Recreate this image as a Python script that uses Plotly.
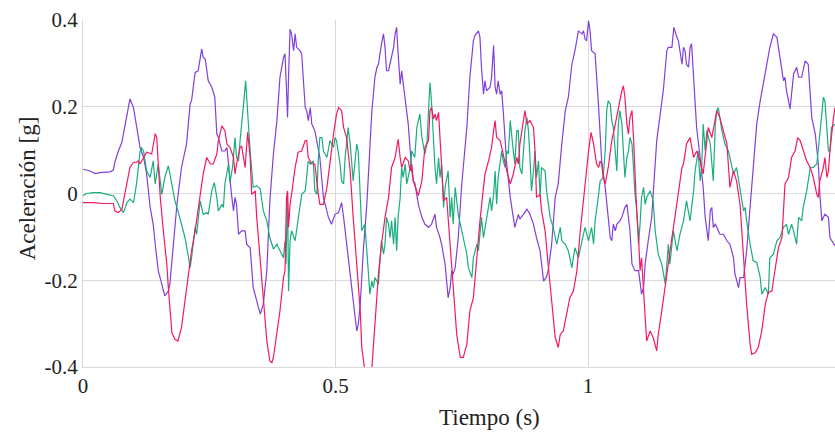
import plotly.graph_objects as go

# ---- data (time in s, acceleration in g) ----
t_purple = [0.000, 0.014, 0.024, 0.034, 0.054, 0.060, 0.063, 0.070, 0.077, 0.083, 0.090, 0.093, 0.100, 0.106, 0.113, 0.120, 0.126, 0.133, 0.139, 0.143, 0.149, 0.156, 0.162, 0.169, 0.172, 0.179, 0.186,
            0.195, 0.205, 0.212, 0.215, 0.222, 0.228, 0.235, 0.238, 0.242, 0.248, 0.255, 0.261, 0.265, 0.268, 0.275, 0.281, 0.285, 0.288, 0.294, 0.298, 0.301, 0.304, 0.308, 0.314, 0.321, 0.324, 0.331, 0.337, 0.344, 0.351, 0.357, 0.364, 0.370, 0.377,
            0.384, 0.390, 0.397, 0.400, 0.403, 0.405, 0.407, 0.410, 0.413, 0.417, 0.420, 0.423, 0.430, 0.433, 0.436, 0.440, 0.443, 0.446, 0.450, 0.453, 0.459, 0.466, 0.469, 0.476, 0.479, 0.486, 0.492, 0.499, 0.506, 0.509, 0.512, 0.516, 0.522, 0.529, 0.535, 0.542, 0.545, 0.549, 0.555, 0.562,
            0.572, 0.578, 0.582, 0.585, 0.591, 0.595, 0.598, 0.601, 0.605, 0.608, 0.611, 0.615, 0.618, 0.621, 0.624, 0.628, 0.631, 0.638, 0.641, 0.644, 0.651, 0.654, 0.657, 0.664, 0.671, 0.677, 0.684, 0.690, 0.697, 0.700, 0.707, 0.710, 0.717, 0.723, 0.727, 0.730, 0.733, 0.737, 0.743, 0.750,
            0.760, 0.766, 0.773, 0.776, 0.783, 0.786, 0.789, 0.793, 0.796, 0.799, 0.806, 0.809, 0.813, 0.816, 0.819, 0.822, 0.826, 0.829, 0.832, 0.836, 0.839, 0.846, 0.852, 0.855, 0.862, 0.865, 0.872, 0.879, 0.885, 0.892, 0.898, 0.905, 0.912, 0.917, 0.921, 0.928, 0.935, 0.941,
            0.948, 0.955, 0.961, 0.968, 0.974, 0.981, 0.988, 0.991, 0.994, 0.997, 1.001, 1.004, 1.007, 1.014, 1.021, 1.027, 1.034, 1.037, 1.044, 1.047, 1.050, 1.054, 1.057, 1.063, 1.067, 1.073, 1.077, 1.080, 1.083, 1.087, 1.093, 1.100, 1.103, 1.106, 1.110, 1.113, 1.120, 1.126,
            1.136, 1.143, 1.149, 1.156, 1.159, 1.166, 1.170, 1.176, 1.179, 1.186, 1.189, 1.192, 1.195, 1.199, 1.202, 1.205, 1.209, 1.215, 1.222, 1.228, 1.232, 1.235, 1.238, 1.242, 1.245, 1.248, 1.252, 1.255, 1.261, 1.268, 1.275, 1.281, 1.288, 1.291, 1.298, 1.301, 1.308, 1.314,
            1.321, 1.327, 1.334, 1.341, 1.347, 1.354, 1.360, 1.367, 1.374, 1.380, 1.384, 1.387, 1.390, 1.393, 1.400, 1.403, 1.407, 1.413, 1.417, 1.423, 1.430, 1.436, 1.440, 1.443, 1.450, 1.456, 1.459, 1.463, 1.469, 1.476, 1.479, 1.486, 1.489]
a_purple = [0.056, 0.052, 0.046, 0.048, 0.050, 0.054, 0.072, 0.098, 0.118, 0.156, 0.206, 0.218, 0.198, 0.152, 0.106, 0.083, 0.045, -0.032, -0.071, -0.117, -0.178, -0.209, -0.236, -0.225, -0.209, -0.117, -0.025,
            0.060, 0.114, 0.206, 0.214, 0.279, 0.283, 0.333, 0.314, 0.310, 0.260, 0.245, 0.222, 0.137, 0.129, 0.098, 0.098, 0.106, 0.068, -0.002, -0.040, -0.009, -0.025, -0.094, -0.086, -0.086, -0.117, -0.125, -0.217, -0.248, -0.278, -0.255, -0.178, -0.017, 0.091,
            0.168, 0.268, 0.314, 0.322, 0.237, 0.175, 0.268, 0.379, 0.368, 0.329, 0.368, 0.337, 0.329, 0.322, 0.268, 0.198, 0.191, 0.168, 0.198, 0.160, 0.145, 0.098, 0.083, -0.009, -0.025, -0.055, -0.071, -0.048, -0.044, -0.032, -0.021, -0.055, -0.117, -0.186, -0.255, -0.317, -0.302, -0.255, -0.132, -0.025,
            0.191, 0.268, 0.291, 0.298, 0.345, 0.368, 0.337, 0.283, 0.283, 0.302, 0.314, 0.337, 0.368, 0.383, 0.322, 0.252, 0.283, 0.222, 0.198, 0.160, 0.052, 0.029, 0.025, -0.025, -0.055, -0.071, -0.078, -0.071, -0.048, -0.078, -0.102, -0.117, -0.163, -0.240, -0.217, -0.178, -0.186, -0.171, -0.102, 0.022,
            0.152, 0.268, 0.352, 0.364, 0.375, 0.360, 0.291, 0.229, 0.260, 0.237, 0.245, 0.268, 0.341, 0.245, 0.229, 0.260, 0.229, 0.237, 0.191, 0.114, 0.068, -0.009, -0.055, -0.078, -0.048, -0.059, -0.048, -0.036, -0.048, -0.071, -0.102, -0.132, -0.202, -0.194, -0.178, -0.117, -0.009, 0.022,
            0.114, 0.191, 0.222, 0.298, 0.329, 0.375, 0.368, 0.375, 0.356, 0.352, 0.398, 0.375, 0.329, 0.322, 0.198, 0.075, 0.014, -0.017, -0.102, -0.109, -0.071, -0.086, -0.071, -0.063, -0.055, -0.032, -0.025, -0.055, -0.086, -0.163, -0.178, -0.178, -0.209, -0.232, -0.217, -0.163, -0.102, -0.055,
            0.122, 0.183, 0.237, 0.329, 0.337, 0.337, 0.383, 0.360, 0.352, 0.298, 0.337, 0.329, 0.298, 0.291, 0.337, 0.345, 0.268, 0.152, 0.083, 0.014, -0.055, -0.086, -0.109, -0.040, -0.032, -0.078, -0.071, -0.078, -0.094, -0.094, -0.109, -0.117, -0.148, -0.186, -0.217, -0.194, -0.194, -0.132,
            -0.030, 0.068, 0.160, 0.214, 0.252, 0.298, 0.337, 0.368, 0.360, 0.314, 0.283, 0.260, 0.268, 0.237, 0.195, 0.237, 0.275, 0.291, 0.268, 0.268, 0.306, 0.298, 0.229, 0.175, 0.137, 0.068, -0.002, -0.063, -0.048, -0.055, -0.102, -0.117, -0.121]

t_red = [0.000, 0.020, 0.040, 0.060, 0.063, 0.070, 0.077, 0.080, 0.087, 0.093, 0.100, 0.106, 0.110, 0.113, 0.120, 0.126, 0.136, 0.143, 0.146, 0.149, 0.153, 0.159, 0.166, 0.169, 0.172, 0.176, 0.182, 0.188,
         0.195, 0.202, 0.209, 0.215, 0.222, 0.228, 0.232, 0.238, 0.245, 0.252, 0.258, 0.265, 0.268, 0.275, 0.281, 0.285, 0.291, 0.298, 0.301, 0.304, 0.311, 0.314, 0.321, 0.326, 0.331, 0.334, 0.341, 0.344, 0.351, 0.357, 0.364, 0.370, 0.374, 0.377,
         0.384, 0.390, 0.397, 0.400, 0.403, 0.405, 0.407, 0.410, 0.413, 0.420, 0.426, 0.433, 0.440, 0.443, 0.446, 0.453, 0.459, 0.463, 0.466, 0.469, 0.476, 0.483, 0.489, 0.496, 0.502, 0.506, 0.512, 0.516, 0.522, 0.529, 0.535, 0.542, 0.549, 0.552, 0.558, 0.562, 0.568,
         0.572, 0.578, 0.585, 0.591, 0.598, 0.605, 0.611, 0.618, 0.624, 0.628, 0.631, 0.638, 0.644, 0.648, 0.651, 0.654, 0.661, 0.664, 0.671, 0.677, 0.684, 0.687, 0.690, 0.694, 0.697, 0.700, 0.704, 0.707, 0.710, 0.714, 0.720, 0.727, 0.733, 0.740, 0.747, 0.753,
         0.760, 0.766, 0.773, 0.780, 0.786, 0.793, 0.796, 0.803, 0.809, 0.813, 0.816, 0.819, 0.826, 0.832, 0.839, 0.846, 0.852, 0.859, 0.862, 0.865, 0.872, 0.875, 0.879, 0.885, 0.892, 0.895, 0.898, 0.905, 0.908, 0.915, 0.921, 0.928, 0.935, 0.941,
         0.945, 0.951, 0.958, 0.964, 0.971, 0.978, 0.984, 0.991, 0.997, 1.001, 1.006, 1.011, 1.017, 1.021, 1.024, 1.027, 1.030, 1.034, 1.040, 1.047, 1.054, 1.060, 1.067, 1.070, 1.073, 1.077, 1.080, 1.083, 1.087, 1.090, 1.093, 1.096, 1.100, 1.103, 1.106, 1.110, 1.113, 1.116, 1.123, 1.129,
         1.136, 1.139, 1.146, 1.153, 1.159, 1.166, 1.172, 1.179, 1.186, 1.189, 1.195, 1.202, 1.209, 1.215, 1.222, 1.228, 1.232, 1.238, 1.245, 1.252, 1.255, 1.261, 1.268, 1.275, 1.281, 1.285, 1.288, 1.294, 1.301,
         1.308, 1.314, 1.321, 1.324, 1.331, 1.337, 1.344, 1.351, 1.357, 1.364, 1.370, 1.377, 1.384, 1.387, 1.390, 1.397, 1.403, 1.410, 1.415, 1.420, 1.426, 1.433, 1.440, 1.446, 1.453, 1.456, 1.459, 1.466, 1.469, 1.473, 1.476, 1.479, 1.486, 1.489]
a_red = [-0.021, -0.021, -0.023, -0.023, -0.040, -0.044, -0.036, -0.017, 0.022, 0.060, 0.072, 0.072, 0.075, 0.068, 0.083, 0.095, 0.091, 0.138, 0.129, 0.075, -0.009, -0.086, -0.163, -0.217, -0.271, -0.321, -0.336, -0.340,
         -0.309, -0.248, -0.186, -0.132, -0.086, -0.040, -0.002, 0.045, 0.083, 0.068, 0.068, 0.091, 0.122, 0.156, 0.145, 0.114, 0.106, 0.083, 0.045, 0.068, 0.106, 0.110, 0.060, 0.141, 0.083, -0.002, 0.006, -0.055, -0.155, -0.248, -0.340, -0.386, -0.390, -0.378,
         -0.317, -0.271, -0.194, -0.178, -0.009, 0.006, -0.078, -0.025, -0.002, 0.060, 0.095, 0.098, 0.122, 0.122, 0.083, 0.068, 0.068, 0.022, -0.002, -0.025, -0.025, 0.014, 0.075, 0.137, 0.183, 0.198, 0.191, 0.152, 0.129, 0.052, -0.055, -0.163, -0.271, -0.355, -0.409, -0.425, -0.415,
         -0.402, -0.294, -0.186, -0.117, -0.055, -0.009, 0.060, 0.083, 0.125, 0.083, 0.060, 0.083, 0.075, 0.052, 0.068, 0.029, 0.006, -0.005, 0.029, 0.106, 0.122, 0.191, 0.198, 0.172, 0.183, 0.168, 0.187, 0.129, 0.060, -0.017, -0.009, -0.117, -0.232, -0.325, -0.378, -0.378,
         -0.348, -0.271, -0.240, -0.140, -0.063, 0.014, 0.045, 0.075, 0.106, 0.145, 0.168, 0.129, 0.122, 0.091, 0.052, 0.022, 0.045, 0.083, 0.068, 0.114, 0.168, 0.191, 0.160, 0.168, 0.152, 0.098, -0.009, -0.002, -0.040, -0.086, -0.163, -0.255, -0.332, -0.355,
         -0.325, -0.317, -0.271, -0.240, -0.225, -0.178, -0.094, -0.009, 0.052, 0.098, 0.141, 0.114, 0.068, 0.060, 0.075, 0.068, 0.037, 0.022, 0.060, 0.122, 0.160, 0.198, 0.237, 0.248, 0.222, 0.160, 0.137, 0.175, 0.191, 0.129, 0.037, -0.032, -0.102, -0.178, -0.148, -0.232, -0.302, -0.340, -0.317, -0.332,
         -0.363, -0.325, -0.271, -0.209, -0.163, -0.102, -0.055, 0.006, 0.060, 0.068, 0.114, 0.129, 0.083, 0.098, 0.075, 0.045, 0.083, 0.152, 0.129, 0.175, 0.191, 0.175, 0.145, 0.114, 0.014, 0.037, 0.052, 0.029, -0.025,
         -0.148, -0.255, -0.348, -0.371, -0.367, -0.355, -0.317, -0.255, -0.228, -0.225, -0.178, -0.125, -0.102, -0.040, 0.022, 0.037, 0.083, 0.098, 0.129, 0.122, 0.098, 0.075, 0.060, 0.037, -0.002, -0.009, 0.029, 0.060, 0.083, 0.037, 0.052, 0.098, 0.175, 0.198]

t_green = [0.000, 0.007, 0.020, 0.034, 0.047, 0.060, 0.067, 0.073, 0.080, 0.087, 0.093, 0.100, 0.106, 0.113, 0.116, 0.120, 0.126, 0.133, 0.139, 0.143, 0.146, 0.149, 0.156, 0.162, 0.169, 0.176, 0.182, 0.188,
           0.195, 0.202, 0.209, 0.212, 0.215, 0.222, 0.225, 0.232, 0.238, 0.245, 0.248, 0.255, 0.260, 0.265, 0.268, 0.275, 0.278, 0.281, 0.288, 0.291, 0.296, 0.301, 0.304, 0.308, 0.311, 0.314, 0.318, 0.322, 0.326, 0.331, 0.337, 0.344, 0.351, 0.357, 0.364, 0.370, 0.377,
           0.384, 0.390, 0.397, 0.400, 0.402, 0.405, 0.407, 0.410, 0.413, 0.420, 0.426, 0.433, 0.440, 0.446, 0.450, 0.456, 0.459, 0.463, 0.466, 0.469, 0.473, 0.476, 0.483, 0.489, 0.496, 0.499, 0.502, 0.509, 0.512, 0.516, 0.519, 0.525, 0.529, 0.535, 0.542, 0.545, 0.552, 0.558, 0.562,
           0.565, 0.568, 0.572, 0.575, 0.578, 0.585, 0.588, 0.591, 0.595, 0.598, 0.601, 0.605, 0.608, 0.611, 0.615, 0.618, 0.621, 0.624, 0.628, 0.631, 0.634, 0.638, 0.641, 0.644, 0.648, 0.651, 0.657, 0.661, 0.667, 0.671, 0.677, 0.681, 0.684, 0.687, 0.690, 0.694, 0.697, 0.700, 0.704, 0.707, 0.710, 0.714, 0.717, 0.723, 0.727, 0.730, 0.733, 0.737, 0.743, 0.750, 0.756,
           0.760, 0.763, 0.770, 0.773, 0.780, 0.783, 0.789, 0.793, 0.799, 0.803, 0.806, 0.809, 0.813, 0.816, 0.819, 0.822, 0.826, 0.829, 0.832, 0.836, 0.839, 0.842, 0.846, 0.849, 0.852, 0.855, 0.859, 0.862, 0.865, 0.869, 0.872, 0.875, 0.879, 0.882, 0.885, 0.888, 0.892, 0.895, 0.898, 0.902, 0.905, 0.908, 0.915, 0.918, 0.925, 0.931, 0.938,
           0.945, 0.948, 0.955, 0.961, 0.968, 0.974, 0.981, 0.988, 0.994, 1.001, 1.007, 1.011, 1.014, 1.021, 1.024, 1.030, 1.034, 1.037, 1.040, 1.044, 1.047, 1.050, 1.054, 1.057, 1.060, 1.063, 1.067, 1.070, 1.073, 1.077, 1.080, 1.083, 1.087, 1.090, 1.093, 1.096, 1.100, 1.103, 1.106, 1.110, 1.113, 1.116, 1.123,
           1.129, 1.133, 1.139, 1.146, 1.153, 1.159, 1.162, 1.169, 1.176, 1.182, 1.189, 1.195, 1.202, 1.209, 1.212, 1.218, 1.222, 1.225, 1.228, 1.232, 1.235, 1.238, 1.242, 1.248, 1.252, 1.255, 1.258, 1.261, 1.265, 1.271, 1.278, 1.281, 1.288, 1.294, 1.301,
           1.308, 1.311, 1.314, 1.321, 1.327, 1.334, 1.341, 1.344, 1.351, 1.357, 1.360, 1.367, 1.374, 1.380, 1.387, 1.393, 1.397, 1.403, 1.407, 1.413, 1.417, 1.423, 1.426, 1.433, 1.440, 1.446, 1.453, 1.459, 1.466, 1.469, 1.476, 1.479, 1.482, 1.489]
a_green = [-0.005, 0.000, 0.002, 0.002, -0.002, -0.005, -0.017, -0.032, -0.044, -0.021, -0.013, -0.021, 0.022, 0.098, 0.105, 0.098, 0.052, 0.037, 0.075, 0.022, 0.045, 0.068, -0.002, 0.037, 0.064, 0.022, -0.017, -0.040,
           -0.071, -0.102, -0.148, -0.171, -0.148, -0.078, -0.094, -0.017, -0.048, -0.044, -0.048, 0.006, 0.025, -0.009, -0.040, -0.025, -0.032, 0.022, 0.068, 0.025, 0.060, 0.129, 0.083, 0.075, 0.122, 0.152, 0.206, 0.260, 0.183, 0.098, 0.014, 0.018, 0.010, -0.040, -0.063, -0.102, -0.128,
           -0.117, -0.132, -0.148, -0.109, -0.163, 0.006, -0.225, -0.109, -0.086, -0.109, -0.055, -0.002, 0.006, 0.075, 0.068, 0.075, 0.006, -0.002, 0.083, 0.129, 0.129, 0.098, 0.083, 0.122, 0.106, 0.129, 0.122, 0.068, 0.029, 0.022, 0.083, 0.152, 0.114, 0.029, 0.114, 0.098, -0.086, -0.071, -0.132,
           -0.194, -0.232, -0.202, -0.217, -0.194, -0.209, -0.155, -0.109, -0.140, -0.117, -0.055, -0.071, -0.102, -0.063, -0.117, -0.055, -0.132, -0.055, -0.009, 0.060, 0.037, 0.068, 0.022, 0.037, 0.060, 0.098, 0.083, 0.152, 0.183, 0.129, 0.091, 0.114, 0.206, 0.256, 0.214, 0.114, 0.060, 0.022, 0.083, 0.037, 0.068, -0.032, 0.014, 0.052, -0.055, -0.009, -0.071, 0.014, -0.048, -0.086, -0.117,
           -0.140, -0.171, -0.194, -0.148, -0.117, -0.132, -0.055, -0.102, -0.063, -0.032, -0.009, -0.040, -0.002, 0.052, -0.025, 0.037, 0.075, 0.098, 0.075, 0.060, 0.098, 0.091, 0.168, 0.122, 0.098, 0.068, 0.145, 0.145, 0.060, 0.045, 0.098, 0.145, 0.175, 0.145, 0.083, 0.006, 0.052, 0.098, 0.037, 0.075, -0.009, 0.060, 0.052, 0.006, -0.055, -0.078, -0.117,
           -0.078, -0.109, -0.117, -0.132, -0.171, -0.125, -0.148, -0.109, -0.078, -0.109, -0.078, -0.117, -0.063, -0.002, 0.029, 0.037, 0.098, 0.191, 0.214, 0.206, 0.168, 0.152, 0.098, 0.052, 0.160, 0.191, 0.160, 0.098, 0.037, 0.083, 0.098, 0.129, 0.114, 0.060, -0.002, -0.032, -0.117, -0.071, -0.009, 0.014, -0.025, -0.009, 0.006,
           -0.017, -0.086, -0.140, -0.163, -0.209, -0.117, -0.163, -0.086, -0.132, -0.094, -0.063, -0.017, -0.063, 0.006, 0.052, 0.098, 0.029, 0.060, 0.160, 0.098, 0.145, 0.129, 0.114, 0.029, 0.160, 0.191, 0.198, 0.175, 0.145, 0.114, 0.098, 0.083, 0.045, 0.060, 0.014,
           -0.040, -0.032, -0.063, -0.117, -0.155, -0.159, -0.194, -0.232, -0.217, -0.232, -0.148, -0.140, -0.109, -0.102, -0.078, -0.071, -0.094, -0.071, -0.086, -0.117, -0.055, -0.063, -0.032, 0.006, 0.060, 0.060, 0.068, 0.137, 0.222, 0.214, 0.098, 0.098, 0.152, 0.160]

x_ticks = [0, 0.5, 1]
x_tick_text = ["0", "0.5", "1"]
y_ticks = [-0.4, -0.2, 0, 0.2, 0.4]
y_tick_text = ["-0.4", "-0.2", "0", "0.2", "0.4"]

x_title = "Tiempo (s)"
y_title = "Aceleración [g]"

PURPLE = "#8040dc"
RED = "#f5195f"
GREEN = "#19ad80"
FONT = "Liberation Serif, Times New Roman, serif"
GRID = "#d9d9d9"
TXT = "#222222"

fig = go.Figure()
for t, a, c in [(t_purple, a_purple, PURPLE), (t_green, a_green, GREEN), (t_red, a_red, RED)]:
    fig.add_trace(go.Scatter(x=t, y=a, mode="lines", line=dict(color=c, width=1.2),
                             hoverinfo="skip", showlegend=False))

fig.update_layout(
    width=835, height=439,
    margin=dict(l=83, r=0, t=20, b=72, autoexpand=False),
    paper_bgcolor="white", plot_bgcolor="white",
    font=dict(family=FONT, size=21, color=TXT),
    showlegend=False,
    xaxis=dict(range=[0, 1.489], tickvals=x_ticks, ticktext=x_tick_text,
               automargin=False,
               showgrid=True, gridcolor=GRID, gridwidth=1, zeroline=False,
               showline=True, linecolor=GRID, ticks="", ticklen=0,
               tickfont=dict(family=FONT, size=21, color=TXT)),
    yaxis=dict(range=[-0.4, 0.4], tickvals=y_ticks, ticktext=y_tick_text,
               automargin=False,
               showgrid=True, gridcolor=GRID, gridwidth=1, zeroline=False,
               showline=True, linecolor=GRID, ticks="", ticklen=0,
               tickfont=dict(family=FONT, size=21, color=TXT)),
    annotations=[
        dict(text=x_title, xref="paper", yref="paper", x=0.54, y=-0.145,
             xanchor="center", yanchor="middle", showarrow=False,
             font=dict(family=FONT, size=23, color=TXT)),
        dict(text=y_title, xref="paper", yref="paper", x=-0.0745, y=0.515,
             xanchor="center", yanchor="middle", textangle=-90, showarrow=False,
             font=dict(family=FONT, size=23, color=TXT)),
    ],
)

fig.write_html("out.html", config={"displayModeBar": False},
               post_script="document.body.style.margin='0px';document.body.style.overflow='hidden';")
